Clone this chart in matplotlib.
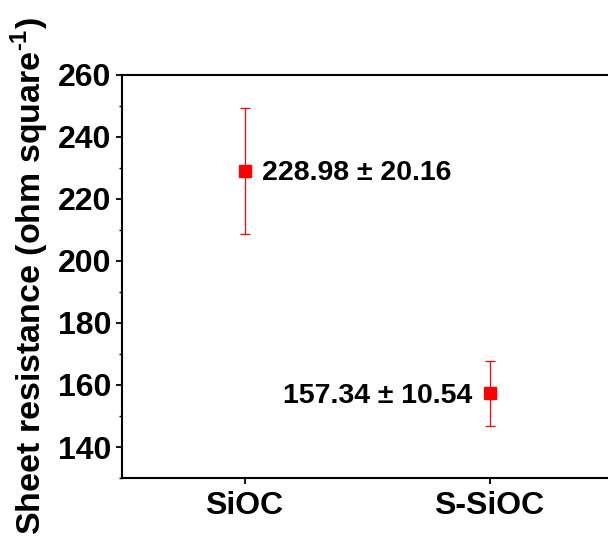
import matplotlib.pyplot as plt
from matplotlib.ticker import MultipleLocator

# data
samples = ["SiOC", "S-SiOC"]
resistance = [228.98, 157.34]
resistance_err = [20.16, 10.54]

plt.rcParams['font.family'] = ['Liberation Sans', 'DejaVu Sans']
plt.rcParams['font.weight'] = 'bold'
plt.rcParams['mathtext.fontset'] = 'custom'
plt.rcParams['mathtext.bf'] = 'Liberation Sans:bold'
plt.rcParams['mathtext.rm'] = 'Liberation Sans'

fig = plt.figure(figsize=(6.08, 5.42), dpi=100)
ax = fig.add_axes([0.2007, 0.118, 0.806, 0.744])

xpos = [1, 2]
ax.errorbar(xpos, resistance, yerr=resistance_err, fmt='s', color='#ff0000',
            markersize=8.5, elinewidth=0.9, capsize=3.5, capthick=0.9)

# value annotations
labels = ["%.2f \u00b1 %.2f" % (v, e) for v, e in zip(resistance, resistance_err)]
ax.text(xpos[0] + 0.073, resistance[0] - 0.5, labels[0], fontsize=20.5, fontweight='bold',
        ha='left', va='center')
ax.text(xpos[1] - 0.07, resistance[1] - 1.0, labels[1], fontsize=20.5, fontweight='bold',
        ha='right', va='center')

ax.set_xlim(0.5, 2.5)
ax.set_ylim(130, 260)
ax.set_xticks(xpos)
ax.set_xticklabels(samples)
ax.yaxis.set_major_locator(MultipleLocator(20))
ax.yaxis.set_minor_locator(MultipleLocator(10))
ax.set_yticks([140, 160, 180, 200, 220, 240, 260])

ax.tick_params(axis='both', which='major', labelsize=23, width=1.3, length=4.5,
               direction='out', pad=3)
ax.tick_params(axis='x', which='major', pad=5)
ax.tick_params(axis='y', which='minor', width=1.0, length=2.5, direction='out')
for lab in ax.get_xticklabels() + ax.get_yticklabels():
    lab.set_fontweight('bold')

for side in ['left', 'bottom', 'top']:
    ax.spines[side].set_linewidth(1.5)
ax.spines['right'].set_visible(False)

ax.set_ylabel("Sheet resistance (ohm square$^{\\mathbf{\u2010}\\mathbf{1}}$)", fontsize=24.5,
              fontweight='bold', labelpad=5)

fig.savefig("out.png", dpi=100)
